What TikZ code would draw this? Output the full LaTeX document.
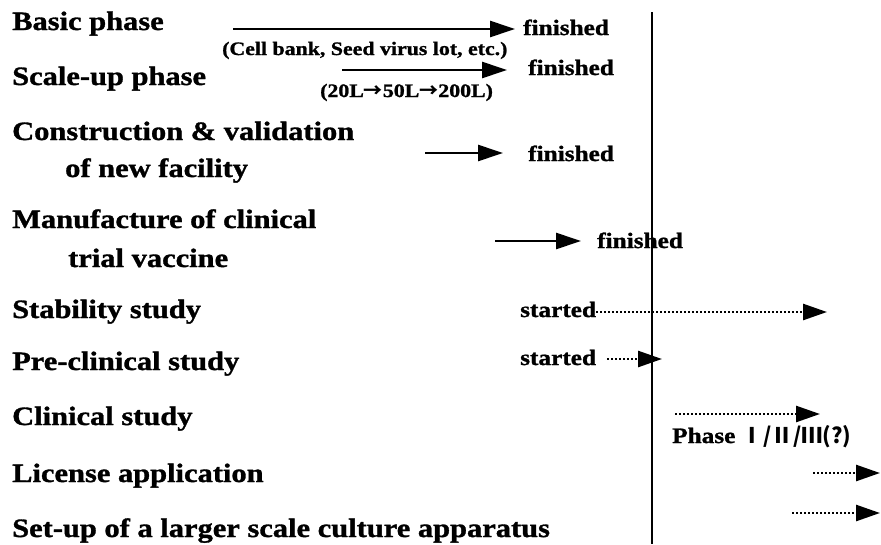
\documentclass[tikz,border=0pt]{standalone}
\usepackage{fontspec}
\setmainfont[FakeStretch=1.15,BoldFeatures={FakeBold=1.2}]{Liberation Serif}
\newfontfamily\cjk{Noto Sans CJK JP}
\usetikzlibrary{arrows.meta}
\begin{document}
\begin{tikzpicture}[x=1pt,y=-1pt,
  lbl/.style={anchor=base west,inner sep=0pt,font=\fontsize{26.5}{30}\selectfont\bfseries},
  st/.style={anchor=base west,inner sep=0pt,font=\fontsize{22}{26}\selectfont\bfseries},
  sub/.style={anchor=base west,inner sep=0pt,font=\fontsize{19}{22}\selectfont\bfseries},
  solidarr/.style={line width=2.6pt,-{Triangle[length=25pt,width=16pt]}},
  dotarr/.style={line width=2.6pt,dash pattern=on 2pt off 2pt,-{Triangle[length=24pt,width=16pt]}},
  vline/.style={line width=2pt}]
\useasboundingbox (0,0) rectangle (881,544);
% left labels
\node[lbl] (l1) at (12,30) {Basic phase};
\node[lbl] (l2) at (12,85) {Scale-up phase};
\node[lbl] (l3) at (12,140) {Construction \& validation};
\node[lbl] (l3b) at (65,177) {of new facility};
\node[lbl] (l4) at (12,228) {Manufacture of clinical};
\node[lbl] (l4b) at (68,267) {trial vaccine};
\node[lbl] (l5) at (12,318) {Stability study};
\node[lbl] (l6) at (12,370) {Pre-clinical study};
\node[lbl] (l7) at (12,425) {Clinical study};
\node[lbl] (l8) at (12,482) {License application};
\node[lbl] (l9) at (12,537) {Set-up of a larger scale culture apparatus};
% divider
\coordinate (vtop) at (652,12);
\coordinate (vbot) at (652,544);
\draw[vline] (vtop) -- (vbot);
% basic phase
\coordinate (a1s) at (233,29);
\coordinate (a1e) at (515,29);
\draw[solidarr] (a1s) -- (a1e);
\node[st] (f1) at (523,35) {finished};
\node[sub] (s1) at (222,55) {(Cell bank, Seed virus lot, etc.)};
% scale-up
\coordinate (a2s) at (342,70);
\coordinate (a2e) at (507,70);
\draw[solidarr] (a2s) -- (a2e);
\node[st] (f2) at (528,75) {finished};
\node[sub] (s2) at (320,97) {(20L{\cjk →}50L{\cjk →}200L)};
% construction
\coordinate (a3s) at (425,153);
\coordinate (a3e) at (503,153);
\draw[solidarr] (a3s) -- (a3e);
\node[st] (f3) at (528,161) {finished};
% manufacture
\coordinate (a4s) at (495,241);
\coordinate (a4e) at (581,241);
\draw[solidarr] (a4s) -- (a4e);
\node[st] (f4) at (597,248) {finished};
% stability
\node[st] (t5) at (520,317) {started};
\coordinate (a5e) at (827,312);
\draw[dotarr] (t5.base east) ++(0,-5) coordinate (a5s) -- (a5e);
% pre-clinical
\node[st] (t6) at (520,365) {started};
\coordinate (a6s) at (607,359);
\coordinate (a6e) at (662,359);
\draw[dotarr] (a6s) -- (a6e);
% clinical
\coordinate (a7s) at (675,414);
\coordinate (a7e) at (820,414);
\draw[dotarr] (a7s) -- (a7e);
\node[st] (p7) at (672,443) {Phase {\cjk\bfseries\fontsize{21.5}{24}\selectfont Ⅰ/Ⅱ/Ⅲ(?)}};
% license
\coordinate (a8s) at (813,473);
\coordinate (a8e) at (880,473);
\draw[dotarr] (a8s) -- (a8e);
% set-up
\coordinate (a9s) at (792,513);
\coordinate (a9e) at (880,513);
\draw[dotarr] (a9s) -- (a9e);
\end{tikzpicture}
\end{document}
